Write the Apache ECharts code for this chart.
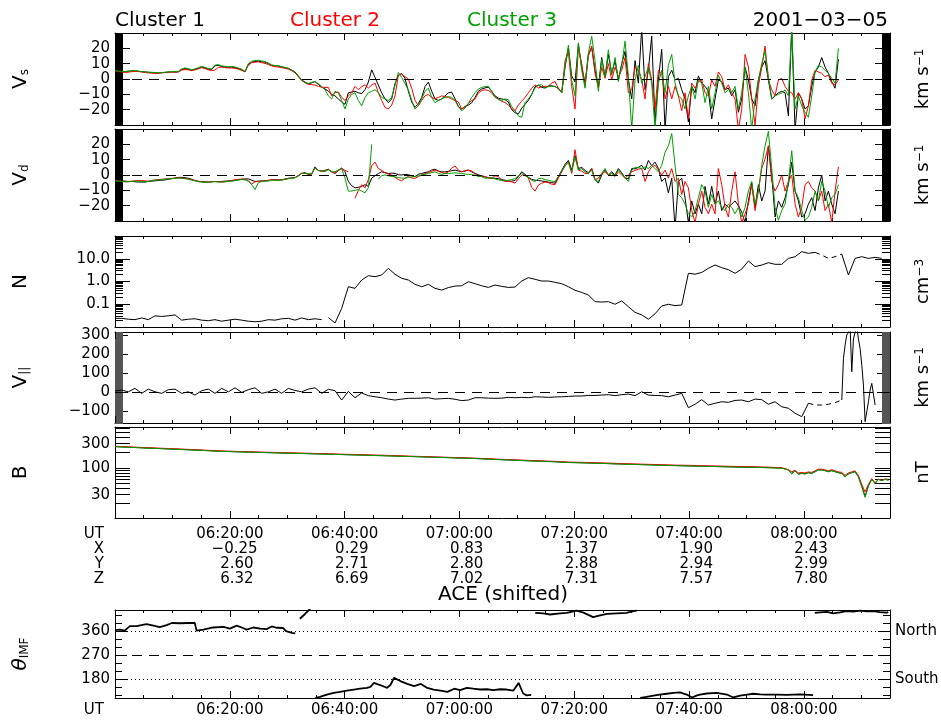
<!DOCTYPE html>
<html>
<head>
<meta charset="utf-8">
<script src="https://cdn.jsdelivr.net/npm/echarts@6/dist/echarts.min.js"></script>
<style>
  html, body { margin: 0; padding: 0; background: #ffffff; }
  #chart { width: 941px; height: 723px; }
</style>
</head>
<body>
<div id="chart"></div>
<script>
// Time axis: minutes after 06:00 UT
const T_MIN = 0, T_MAX = 135;

// ---- Cluster velocity components (km/s), one sample every 0.5807 min from 06:00 ----
const V_T0 = 0, V_STEP = 0.5807;
const vsC1 = [
  4.8,4.8,4.7,4.9,5.1,5.3,5.2,5.0,4.8,4.6, 4.4,4.2,4.0,3.9,4.1,4.3,4.5,4.6,4.5,4.7,
  6.2,6.8,6.4,5.7,6.3,7.0,7.8,7.2,6.4,6.2, 8.6,8.9,8.2,7.8,7.6,7.8,7.4,6.8,6.0,4.6,
  9.5,11,11.4,11.6,11.2,11,10,8.9,8.6,8.5, 7.8,7.4,6.8,5.8,4.6,2.0,-0.6,-2,-3.2,-2.5,
  -1.7,-3.5,-5.3,-6.5,-8,-10,-11,-13,-15,-16.5, -9,-8.5,-8,-9,-9.5,-7,-2,6,1,-4,
  -9,-13,-15.4,-13,-3,2.5,3.6,0.4,-8,-15, -18.5,-16,-12,-5,-2,-8,-13,-14,-13,-11,
  -9,-8.5,-13,-18,-19.6,-18,-17,-15.5,-12,-8, -6.5,-5.8,-5.3,-8,-11,-12.5,-13,-13.5,-15,-20,
  -22,-22.8,-19,-16.5,-14,-10,-5,-4,-5.5,-5.9, -4.5,-4.4,-5,-6,-9,7.8,20,2,-2,22.5,
  7.8,-2.7,16,20.5,5.7,-4.8,14,1.5,16,3.6, 12,-0.6,10,18,-0.6,-13,12,-2.7,33,-7,
  5.7,28,-28,-0.6,19.4,-33,1.5,5.7,-0.6,0.4, -7,-13,-28,-4.8,-9,2,-2.7,-4.8,-8,-26,
  -13,-0.6,-1.7,-7,-5.9,-11,-7,-21.7,-13,7.8, -0.6,-13,-17.5,-0.6,7.8,12,-0.6,-13,-11,-9,
  -8,-9,-24,33,-33,-9,-13,-19.6,-17.5,-4.8, 4.6,7.8,14,7.8,3.6,-1.7,-6,13
];
const vsC2 = [
  5.2,5.0,4.6,4.3,4.4,4.8,5.0,4.9,4.5,4.2, 4.0,3.8,3.6,3.8,4.0,4.2,4.4,4.5,4.6,4.6,
  5.8,6.2,6.0,5.4,6.0,6.6,7.4,6.8,6.0,5.5, 5.8,7.6,7.8,7.4,7.2,7.2,7.0,6.4,5.6,4.8,
  9.0,10.6,11,11.2,10.6,10.2,9.4,8.6,8.0,7.8, 7.4,7.0,6.4,5.4,4.0,1.5,-1,-2.4,-3.6,-3.6,
  -4,-4.8,-5.3,-5.5,-5.5,-11,-9,-8.5,-12,-14, -11,-9,-4.8,-7,-5,-3.8,-5.9,-4,-2.7,-9,
  -14,-18.5,-19.6,-17,-11,2.5,3.2,1.5,0,-6, -14,-17.5,-14,-11,-10,-12,-13,-12,-11,-11.5,
  -12,-13,-14,-15,-19.6,-18,-16,-14,-13,-9, -7.5,-7,-7.5,-9,-12,-13,-14.5,-15.4,-17,-19.5,
  -20.7,-17,-14.5,-12,-9,-6,-3.8,-5.9,-5,-4.8, -4.8,-2.5,-1.7,-6,-9,12,18,-5,-19.6,20.5,
  10,-4.8,15,21.5,3.6,-6,7.8,0.4,10,-0.6, 7.8,1.5,5.7,14,-9,-7,7.8,5.7,-0.6,-13,
  10,-0.6,-19.6,5.7,3.6,-13,-4.8,-13,-4.8,-11, -20.7,-9,-26,-2.7,-6,-1.7,-0.6,-9,-11,-0.6,
  -4.8,4.6,1.5,-7,-3.8,-9,-13,-33,-19.6,16, 7.8,-13,-30,-4.8,7.8,21.5,-0.6,-7,-11,-0.6,
  0.4,-4.8,-8,-9,-13,-9,-13,-26,-17.5,-0.6, 5.7,4.6,3.6,1.5,2.5,-2.7,-3.8,-0.6
];
const vsC3 = [
  5.4,5.2,5.0,4.8,5.0,5.4,5.6,5.2,4.8,4.6, 4.4,4.4,4.2,4.0,4.2,4.4,4.6,4.8,4.9,5.0,
  6.6,7.2,6.8,6.0,6.6,7.4,8.2,7.6,6.8,6.6, 9.0,9.4,8.6,8.2,8.0,8.2,7.8,7.2,6.4,5.0,
  10,11.6,12,12.2,11.8,11.4,10.4,9.2,8.8,8.7, 8.0,7.6,7.0,6.0,4.4,1.6,-0.8,-2.2,-3,-2.2,
  -1.6,-3,-5,-7,-11,-13,-8,-9,-14,-19.6, -13,-10,-9,-14,-17.5,-12,-9,-8,-7,-9,
  -12,-13,-14,-12,-4,4.2,1,-3,-7,-14, -19.6,-17.5,-13,-8,-6,-12,-15.4,-14,-13,-12,
  -11.5,-12,-14,-18,-20.7,-19,-16,-12,-9,-6.5, -5.5,-5,-4.8,-8,-11.5,-13.5,-14,-13,-13.5,-18,
  -20.7,-24,-25,-15.4,-13,-10,-5.9,-4,-3.8,-5.9, -5,-4.8,-4.8,-6.5,-9,8,22,-1,-11,23.6,
  5.7,-6,17,27.8,12,-8,13,1.5,19,2.5, 14,-1.7,9,24.7,1.5,-33,-0.6,8.9,-2.7,1.5,
  7.8,-2.7,-33,-2.7,5.7,-9,8.9,16,-2.7,-11, -13,-19.6,-11,-4.8,-13,-0.6,-2.7,-15.4,-4.8,-19.6,
  -9,2.5,-2.7,-9,-7,-9,-4.8,-19.6,-9,7.8, -9,-33,-13,-0.6,10,18,1.5,-13,-11,-10,
  -9,-7,-11,33,-19.6,-11,-17.5,-21.7,-25,-11, 4.6,8.9,7.8,5.7,3.6,0.4,-2.7,20
];
const vdC1 = [
  -3.6,-3.8,-3.8,-4,-4.2,-4.2,-4.4,-4.6,-4.6,-4.6, -4.2,-4,-3.8,-3.6,-3.4,-3.2,-2.8,-2.4,-2,-1.6,
  -1.5,-1.8,-2.1,-2.8,-3.6,-4.2,-4.4,-4.5,-4.6,-4.5, -4.2,-4.3,-4.2,-4,-3.9,-3.8,-3.6,-3.2,-2.8,-2.6,
  -2.5,-3.4,-4.2,-4,-3.9,-3.8,-3.8,-3.2,-3,-3.2, -3.2,-2.6,-2.1,-1.9,-1.7,-0.5,1,1.5,0.4,0.6,
  5.3,3,2.5,3,3.8,2,1,3,4.6,2.1, -4.2,-7,-8.4,-8,-7.4,-6.3,-7.4,-2,-0.5,1,
  2.1,1.5,1,1.2,1,0.2,0,0.4,0.2,-0.6, -1,0.5,1,1.6,2.1,3.2,3.8,2.6,2.1,2,
  2.4,2.8,3.2,2.6,2.1,2.6,3.2,2,1,0.2, -0.8,-1.2,-1.8,-2.1,-2.1,-2.4,-3,-3.4,-4,-4,
  -3.6,-1,2.1,0.5,-1.5,-2.8,-3.4,-3.6,-3.9,-4.2, -4.6,-5,-5.3,-1,3,7,9.5,3.2,12.7,4.2,
  5,3,1.5,4.2,-3,-5.3,0,3.2,0,2.1, 0,4.2,1.5,-2,-2.5,4.2,4,5,6.3,3.2,
  9.5,6,8.4,4.2,-4.2,-2,-11.6,-2.1,-35,-4.2, -2.1,-14.8,-31,-16.9,-25.3,-19,-25.3,-7.4,-19,-7.4,
  -19,-10.5,-23.2,-19,-21.1,-19,-16.9,-20,-24.3,-31, -16.9,-5.3,-21.1,-6.3,-16.9,-10.5,19,0,-27.4,-16.9,
  -21.1,-14.8,-6.3,8.4,-10.5,-16.9,-27.4,-25.3,-19,-14.8, -23.2,-8.4,0,-16.9,-10.5,-19,-25.3,-10.5
];
const vdC2 = [
  -3.4,-3.8,-4.2,-4.4,-4.4,-4,-3.8,-3.6,-3.6,-3.8, -4,-3.6,-3.2,-3,-2.8,-2.6,-2.4,-2.2,-2,-2,
  -2,-2.2,-2.6,-3,-3.6,-4,-4.4,-4.8,-4.6,-4.2, -4.2,-4.4,-4.6,-4.4,-4,-3.6,-3,-2.8,-2.6,-2.8,
  -3.6,-6,-4.4,-4.2,-4,-3.8,-3.4,-3,-3.2,-3.4, -3,-2.8,-2.4,-2,-1.8,-0.2,1.2,1,0.6,0.8,
  4.6,3,2.6,2.4,3.6,2.2,1.4,2.8,4.2,3, 2,null,-15.2,-10,-6.3,-8.4,-3,6,8.4,4.2,
  3,1.5,0.5,0,-1.5,-3,-3.8,-2,-1,-2, -2.1,-1,0,0.8,1.6,2.4,3.2,2.4,1.6,1,
  2,4.5,5.9,3.2,2.1,2.8,3.2,2.6,1,-1, -0.5,-1,-1.8,-2.1,-0.5,-1,-3.5,-4.2,-4.2,-4.5,
  -5.3,-2.5,0,0,-2,-8,-10.5,-6.5,-5.3,-4.6, -5,-6,-6.3,-2,2,6,8.4,1,16.5,3.2,
  2.5,1,1,4.2,-3.2,-2.1,1,2.1,0,1, -1,2.1,0,-2.1,0,2.1,3,3.8,4.2,-4.2,
  2.1,5.3,6.3,3.2,0,3.2,-2.1,4.2,-4.2,-2.1, -12.7,-4.2,-8.4,-23.2,-31,-19,-10.5,-21.1,-25.3,-19,
  -25.3,4.2,-6.3,-21.1,-27.4,-10.5,2.1,-19,-31,-25.3, -19,-6.3,-23.2,-10.5,4.2,10.5,19,-4.2,-10.5,-6.3,
  0,-10.5,-4.2,0,-19,-27.4,-21.1,-6.3,-4.2,-8.4, -10.5,-16.9,-10.5,-23.2,-19,-31,-10.5,5.3
];
const vdC3 = [
  -3.8,-4,-4.2,-4.4,-4.4,-4.2,-4,-4,-4.2,-4.4, -4.2,-3.8,-3.4,-3.2,-3,-2.8,-2.6,-2.4,-2.2,-2,
  -2.2,-2.4,-2.8,-3.4,-3.8,-4.4,-4.6,-4.8,-4.8,-4.4, -4.4,-4.6,-4.6,-4.4,-4.2,-4,-3.6,-3.2,-3,-3.2,
  -4,-6.3,-9.5,-5,-4.2,-4,-3.8,-3.4,-3.4,-3.6, -3.4,-2.8,-2.4,-2.2,-1.8,-0.6,1,1.2,0.8,0.8,
  4.6,3,2.4,2.6,3.4,2,2.1,3.4,4.2,-2.1, -10.5,-10.5,-10,-9.5,-10.5,-11.6,-8.4,20,null,-2.5,
  -0.5,0,-0.5,-1,-1.2,-1.7,-2,-2.1,-1.6,-1.2, -1,-0.5,0,0.5,1,1.6,2.1,1,0.4,1,
  1,1.2,1.4,1.2,1,0.6,0.4,0.2,0,-1, -1,-2.1,-2,-1.7,-2.6,-3.2,-3.6,-3.8,-3.4,-3,
  -2.4,-0.5,1,-0.5,-1.5,-3.5,-4.2,-2.5,-2.1,-3, -3.4,-4,-4.2,-1,2.5,6,8.4,2.1,11.6,3.2,
  4.2,2,1,3.2,-3.5,-4.2,1,4.2,0,1, 0,3.2,1,-2,-4.2,3.2,5,4.8,4.2,5.3,
  4.2,6.3,4.2,2.1,6.3,14.8,19,27,6.3,-12.7, -14.8,-19,-25.3,-27.4,-23.2,-14.8,-6.3,-10.5,-21.1,-12.7,
  -19,-16.9,-21.1,-23.2,-19,-21.1,-25.3,-21.1,-27.4,-21.1, -10.5,-4.2,-19,-10.5,6.3,19,28.5,4.2,-21.1,-29.5,
  -23.2,-19,-4.2,15.8,-10.5,-14.8,-23.2,-29.5,-27.4,-21.1, -10.5,-16.9,-4.2,-10.5,-21.1,-14.8,-12.7,-6.3
];

// ---- Ion density N (cm^-3), one sample every 1.1614 min; samples 105..109 bridge a data gap ----
const N_T0 = 0, N_STEP = 1.1614;
const nDens = [
  0.024,0.024,0.022,0.021,0.025,0.021,0.031,0.029,0.031,0.034,
  0.020,0.022,0.023,0.020,0.019,0.021,0.018,0.020,0.022,0.020,
  0.018,0.017,0.018,0.021,0.020,0.023,0.024,0.020,0.025,0.021,
  0.023,0.021,0.026,0.015,0.066,0.59,0.50,1.16,1.8,1.63,
  1.93,3.79,2.07,1.38,1.16,0.75,0.59,0.75,0.50,0.42,
  0.54,0.63,0.65,0.98,0.80,0.65,0.55,0.70,0.61,0.55,
  0.57,1.05,1.47,1.25,1.05,1.05,0.92,0.80,0.59,0.41,
  0.33,0.255,0.13,0.125,0.13,0.10,0.14,0.078,0.044,0.034,
  0.022,0.038,0.084,0.10,0.087,0.093,2.29,2.1,2.5,3.8,
  5.3,4.06,3.3,2.29,3.5,8.0,4.5,5.3,6.7,5.7,
  5.7,10.4,12.3,20.5,17.3,19.1,14.6,10.4,12.3,16.0,
  1.93,10.4,12.3,10.4,11.5,10.4
];
const nBreakAfter = 31;      // instrument gap between samples 31 and 32
const nGap = [105, 109];

// ---- Parallel velocity V|| (km/s), one sample every 1.1614 min; samples 104..109 bridge a gap ----
const VPAR_T0 = 0, VPAR_STEP = 1.1614;
const vPar = [
  7,12,3,21,-5,17,3,-5,14,17, -5,3,-14,9,17,-5,21,3,24,0,
  14,24,-5,3,17,-5,21,10,3,17, 24,-5,16,9,-40,5,-28,-3,-17,-23,
  -28,-35,-40,-35,-31,-31,-30,-28,-35,-33, -31,-36,-43,-40,-28,-28,-30,-31,-30,-26,
  -28,-26,-28,-23,-24,-26,-24,-23,-21,-19, -19,-16,-16,-14,-12,-17,-12,-9,-17,3,
  -14,-16,-17,-23,-14,-5,-80,-62,-38,-66, -57,-49,-52,-42,-40,-49,-35,-38,-62,-49,
  -75,-83,-109,-127,-57,-66,-66,-62,-54,-40
];
const vParGap = [104, 109];
// finer samples after the gap (every 0.2904 min)
const VPAR_TAIL_T0 = 126.6, VPAR_TAIL_STEP = 0.2904;
const vParTail = [-40,177,247,300,314,340,108,280,314,340,280,229,142,38,-153,-101,-49,12,47,38,-66];

// ---- Magnetic field magnitude B (nT) ----
const B_T0 = 0, B_STEP = 2.3228;
const bC1 = [263,256,249,243,237,231,225,219,213,209,205,202,199,196,193,190,187,184,181,178,
  175,172,169,166,163,160,157,154,150,146,142,139,136,133,129,127,125,122,120,118,
  116,114,112,110,109,107,106,104,103,102,100];
const bC2 = [267,260,253,247,241,235,229,222,216,212,209,205,202,199,196,193,190,187,184,181,
  178,175,171,168,165,162,159,156,152,148,145,141,138,135,131,129,127,125,122,120,
  118,116,114,113,111,110,108,107,106,104,101];
const bC3 = [262,255,248,242,236,230,224,218,212,208,205,201,198,195,192,189,186,183,180,177,
  174,171,168,165,162,159,156,153,149,145,142,138,135,132,128,126,124,122,119,117,
  115,113,111,110,108,107,105,104,103,101,99];
const B_TAIL_T0 = 116.72, B_TAIL_STEP = 0.5807;
const bTailC1 = [96,92,78,89,76,79,77,81,79,85,92,92,89,85,89,85,81,79,68,77,81,85,68,44,28,45,60,50,60,57,60,58];
const bTailC2 = [97,93,84.7,90,80,82,80,84,82,88,95,95,92,88,93,88,84,82,72,80,84,88,72,48,34,48,62,52,60,58,61,60];
const bTailC3 = [95.6,91.4,76.2,88.7,75.1,78.5,76.2,80.9,78.5,84.7,91.4,91.4,88.7,84.7,88.7,84.7,80.9,78.5,67.6,76.2,
  80.9,84.7,67.6,43,26.6,44.4,60,50,60,56.5,60,58.2];

// ---- ACE IMF clock angle (deg), null separates wrapped segments ----
const thetaTime = [
  0,0.9,1.7,2.6,3.8,4.6,5.5,6.7,7.8,9.0,9.9,11.3,12.8,13.9,14.2,15.4,17.1,18.9,20.0,21.2,22.3,22.9,24.1,25.3,26.4,27.3,28.2,29.3,29.8,30.8,31.4,
  31.8, 32.2,33.1,34.0, 34.4,
  34.9,35.7,36.9,38.1,39.2,40.4,41.6,42.7,43.9,44.5,45.1,46.3,47.4,48.0,48.6,49.8,50.9,52.1,53.3,54.4,
  55.5,56.7,57.9,59.1,60.1,61.3,62.4,63.6,64.8,65.9,67.1,68.2,69.4,70.3,71.1,71.7,72.5,
  72.9,
  73.2,74.6,75.8,77.5,78.7,80.4,81.6,83.3,84.5,85.7,87.4,89.1,90.3,90.9,
  91.2,
  91.5,92.6,93.8,94.9,96.1,97.3,98.4,99.6,100.5,101.4,101.9,103.1,104.8,106.6,107.7,108.9,110.1,111.2,112.4,113.5,115.3,117.0,119.3,121.6,
  121.75,
  121.9,122.8,124.0,125.1,126.3,127.4,128.6,129.8,130.9,132.1,133.2,134.4,134.7
];
const thetaDeg = [
  364,366,362,379,379,383,387,381,375,383,391,390,391,391,362,366,374,376,370,381,372,366,374,370,368,378,373,372,360,354,352,
  null, 407,425,445, null,
  108,112,121,127,131,136,140,143,146,150,165,156,146,158,184,171,161,153,161,146,
  140,136,131,143,138,146,143,140,141,138,141,140,136,165,125,118,120,
  null,
  429,427,423,427,429,438,430,413,420,425,427,429,436,438,
  null,
  108,112,117,121,124,127,129,121,110,118,121,125,127,121,110,117,121,124,122,121,121,120,122,119,
  null,
  429,431,433,427,431,436,434,438,435,436,432,430,432
];

// ---- spacecraft position table (Re) under the B panel ----
const tableMinutes = [20, 40, 60, 80, 100, 120];
const posX = [-0.25, 0.29, 0.83, 1.37, 1.90, 2.43];
const posY = [2.60, 2.71, 2.80, 2.88, 2.94, 2.99];
const posZ = [6.32, 6.69, 7.02, 7.31, 7.57, 7.80];

// ---- axis tick / label values ----
const nLabels = [0.1, 1, 10];
const nMinorTicks = [0.02,0.03,0.04,0.05,0.06,0.07,0.08,0.09,0.2,0.3,0.4,0.5,0.6,0.7,0.8,0.9,
  2,3,4,5,6,7,8,9,20,30,40,50,60,70,80,90];
const vParLabels = [-100, 0, 100, 200, 300];
const bLabels = [30, 100, 300];
const bTicks = [20,30,40,50,60,70,80,90,100,200,300,400,500,600];
const thetaLabels = [180, 270, 360];
const thetaMinorTicks = [120,150,210,240,300,330,390,420];

// ---------------- layout & styling ----------------
const FONT = 'DejaVu Sans';
const BLACK = '#000000', RED = '#ff0000', GREEN = '#00a000';
const PANELS = [
  { top: 33,  height: 92 },
  { top: 129, height: 92 },
  { top: 236, height: 91 },
  { top: 332, height: 91 },
  { top: 427, height: 91 },
  { top: 610, height: 88 }
];
const minus = s => String(s).replace('-', '\u2212');
const hhmm = m => {
  const h = 6 + Math.floor(m / 60), mm = Math.round(m % 60);
  return String(h).padStart(2, '0') + ':' + String(mm).padStart(2, '0') + ':00';
};
const onGrid = (vals, t0, step) => vals.map((v, i) => [t0 + i * step, v]);

const grid = PANELS.map(p => ({ left: 115, width: 775, top: p.top, height: p.height,
  containLabel: false, outerBoundsMode: 'none' }));

const tickLine = { color: BLACK, width: 1 };
const labelStyle = { show: true, margin: 5, fontSize: 15, color: BLACK, fontFamily: FONT };
const leftNameStyle = { fontSize: 20, color: BLACK, fontFamily: FONT,
  rich: { sub: { fontSize: 12, lineHeight: 4, verticalAlign: 'bottom', fontFamily: FONT, color: BLACK },
          th: { fontSize: 20, fontStyle: 'italic', fontFamily: FONT, color: BLACK } } };
const rightNameStyle = { fontSize: 18, color: BLACK, fontFamily: FONT,
  rich: { sup: { fontSize: 12, lineHeight: 4, verticalAlign: 'top', fontFamily: FONT, color: BLACK } } };

// x axes: per panel bottom-minor, bottom-major, top-minor, top-major
const xAxis = [];
PANELS.forEach((p, g) => {
  ['bottom', 'top'].forEach(pos => {
    xAxis.push({ gridIndex: g, type: 'value', position: pos, min: T_MIN, max: T_MAX, interval: 5,
      axisLine: { show: true, onZero: false, lineStyle: tickLine },
      axisTick: { show: true, inside: true, length: 3, lineStyle: tickLine },
      axisLabel: { show: false }, splitLine: { show: false } });
    xAxis.push({ gridIndex: g, type: 'value', position: pos, min: T_MIN, max: T_MAX, interval: 20,
      axisLine: { show: false, onZero: false },
      axisTick: { show: true, inside: true, length: 7, lineStyle: tickLine },
      axisLabel: { show: false }, splitLine: { show: false } });
  });
});
// position table under the B panel
Object.assign(xAxis[4 * 4 + 1], {
  axisLabel: Object.assign({}, labelStyle, { margin: 8, lineHeight: 15.3, customValues: tableMinutes,
    formatter: v => {
      const i = tableMinutes.indexOf(v);
      if (i < 0) return '';
      const f = n => minus(n.toFixed(2)).padStart(7, ' ');
      return [hhmm(v), f(posX[i]), f(posY[i]), f(posZ[i])].join('\n');
    } }),
  name: 'UT\nX\nY\nZ', nameLocation: 'start', nameGap: 11,
  nameTextStyle: { fontSize: 15, fontFamily: FONT, color: BLACK, align: 'right', verticalAlign: 'top',
    lineHeight: 15.3, padding: [8, 0, 0, 0] }
});
// UT labels under the ACE panel
Object.assign(xAxis[5 * 4 + 1], {
  axisLabel: Object.assign({}, labelStyle, { margin: 5, customValues: tableMinutes, formatter: v => hhmm(v) }),
  name: 'UT', nameLocation: 'start', nameGap: 11,
  nameTextStyle: { fontSize: 15, fontFamily: FONT, color: BLACK, align: 'right', verticalAlign: 'top',
    padding: [5, 0, 0, 0] }
});

// y axes
const yAxis = [];
const mainY = [];
function addY(o) { yAxis.push(o); return yAxis.length - 1; }
function yBase(g, pos, extra) {
  return Object.assign({ gridIndex: g, position: pos, splitLine: { show: false },
    axisLine: { show: false, onZero: false },
    axisTick: { show: true, inside: true, length: 15, lineStyle: tickLine },
    axisLabel: { show: false } }, extra);
}
function nameLeft(text, gap) {
  return { name: text, nameLocation: 'middle', nameRotate: 90, nameGap: gap || 84, nameTextStyle: leftNameStyle };
}
function nameRight(text) {
  return { name: text, nameLocation: 'middle', nameRotate: 90, nameGap: 24, nameTextStyle: rightNameStyle };
}
const border = { axisLine: { show: true, onZero: false, lineStyle: tickLine } };

// velocity panels (linear, dense minor ticks)
[['V{sub|s}'], ['V{sub|d}']].forEach((nm, g) => {
  const scale = { type: 'value', min: -30, max: 30, interval: 10,
    minorTick: { show: true, splitNumber: 20, length: 8, lineStyle: tickLine } };
  mainY[g] = addY(yBase(g, 'left', Object.assign({}, scale, border, nameLeft(nm[0]), {
    axisLabel: Object.assign({}, labelStyle, { formatter: v => Math.abs(v) >= 30 ? '' : minus(v) }) })));
  addY(yBase(g, 'right', Object.assign({}, scale, border, nameRight('km s{sup|\u22121}'))));
});

// density panel (log)
{
  const g = 2, scale = { type: 'log', logBase: 10, min: 0.01, max: 100 };
  mainY[g] = addY(yBase(g, 'left', Object.assign({}, scale, border, nameLeft('N'), {
    axisTick: { show: true, inside: true, length: 15, lineStyle: tickLine, customValues: nLabels },
    axisLabel: Object.assign({}, labelStyle, { customValues: nLabels, formatter: v => Number(v).toFixed(1) }) })));
  addY(yBase(g, 'left', Object.assign({}, scale, {
    axisTick: { show: true, inside: true, length: 8, lineStyle: tickLine, customValues: nMinorTicks } })));
  addY(yBase(g, 'right', Object.assign({}, scale, border, nameRight('cm{sup|\u22123}'), {
    axisTick: { show: true, inside: true, length: 15, lineStyle: tickLine, customValues: nLabels } })));
  addY(yBase(g, 'right', Object.assign({}, scale, {
    axisTick: { show: true, inside: true, length: 8, lineStyle: tickLine, customValues: nMinorTicks } })));
}

// parallel velocity panel
{
  const g = 3, scale = { type: 'value', min: -160, max: 315.6 };
  const dense = { type: 'value', min: -160, max: 315.6, interval: 5,
    axisTick: { show: true, inside: true, length: 8, lineStyle: { color: '#555555', width: 1 } } };
  mainY[g] = addY(yBase(g, 'left', Object.assign({}, scale, border, nameLeft('V{sub|||}'), {
    axisTick: { show: true, inside: true, length: 13, lineStyle: tickLine, customValues: vParLabels },
    axisLabel: Object.assign({}, labelStyle, { customValues: vParLabels, formatter: v => minus(v) }) })));
  addY(yBase(g, 'left', dense));
  addY(yBase(g, 'right', Object.assign({}, scale, border, nameRight('km s{sup|\u22121}'), {
    axisTick: { show: true, inside: true, length: 13, lineStyle: tickLine, customValues: vParLabels } })));
  addY(yBase(g, 'right', dense));
}

// field magnitude panel (log)
{
  const g = 4, scale = { type: 'log', logBase: 10, min: 10.5, max: 636 };
  mainY[g] = addY(yBase(g, 'left', Object.assign({}, scale, border, nameLeft('B'), {
    axisTick: { show: true, inside: true, length: 15, lineStyle: tickLine, customValues: bTicks },
    axisLabel: Object.assign({}, labelStyle, { customValues: bLabels, formatter: v => String(Math.round(v)) }) })));
  addY(yBase(g, 'right', Object.assign({}, scale, border, nameRight('nT'), {
    axisTick: { show: true, inside: true, length: 15, lineStyle: tickLine, customValues: bTicks } })));
}

// IMF clock angle panel
{
  const g = 5, scale = { type: 'value', min: 108, max: 440 };
  mainY[g] = addY(yBase(g, 'left', Object.assign({}, scale, border, nameLeft('{th|\u03b8}{sub|IMF}'), {
    axisTick: { show: true, inside: true, length: 12, lineStyle: tickLine, customValues: thetaLabels },
    axisLabel: Object.assign({}, labelStyle, { customValues: thetaLabels, formatter: v => String(v) }) })));
  addY(yBase(g, 'left', Object.assign({}, scale, {
    axisTick: { show: true, inside: true, length: 7, lineStyle: tickLine, customValues: thetaMinorTicks } })));
  addY(yBase(g, 'right', Object.assign({}, scale, border, {
    axisTick: { show: true, inside: true, length: 12, lineStyle: tickLine, customValues: thetaLabels },
    axisLabel: Object.assign({}, labelStyle, { customValues: [180, 360], formatter: v => v >= 300 ? 'North' : 'South' }) })));
  addY(yBase(g, 'right', Object.assign({}, scale, {
    axisTick: { show: true, inside: true, length: 7, lineStyle: tickLine, customValues: thetaMinorTicks } })));
}

// ---------------- series ----------------
function line(g, color, data, extra) {
  return Object.assign({ type: 'line', xAxisIndex: g * 4, yAxisIndex: mainY[g], data,
    showSymbol: false, symbol: 'none', connectNulls: false, clip: true, silent: true, animation: false,
    lineStyle: { color, width: 1 }, itemStyle: { color }, z: 3 }, extra || {});
}
function refLines(items) {
  return { silent: true, symbol: ['none', 'none'], label: { show: false }, animation: false,
    lineStyle: { color: BLACK, width: 1, type: [10, 7] }, data: items };
}
const zeroLine = refLines([{ yAxis: 0 }]);

// density: solid record with a break marker at the instrument gap, dashed bridge later on
const nSolidVals = nDens.map((v, i) => (i > nGap[0] && i < nGap[1]) ? null : v);
const nSolid = [];
onGrid(nSolidVals, N_T0, N_STEP).forEach((p, i) => {
  nSolid.push(p);
  if (i === nBreakAfter) nSolid.push([p[0] + N_STEP / 2, null]);
});
const nBridge = nDens.map((v, i) => (i >= nGap[0] && i <= nGap[1]) ? v : null);
const vParSolid = vPar.map((v, i) => i <= vParGap[0] ? v : null);
const vParBridge = vPar.map((v, i) => i >= vParGap[0] ? v : null);

const series = [
  line(0, BLACK, onGrid(vsC1, V_T0, V_STEP), { markLine: zeroLine }),
  line(0, RED, onGrid(vsC2, V_T0, V_STEP)),
  line(0, GREEN, onGrid(vsC3, V_T0, V_STEP)),

  line(1, BLACK, onGrid(vdC1, V_T0, V_STEP), { markLine: zeroLine }),
  line(1, RED, onGrid(vdC2, V_T0, V_STEP)),
  line(1, GREEN, onGrid(vdC3, V_T0, V_STEP)),

  line(2, BLACK, nSolid),
  line(2, BLACK, onGrid(nBridge, N_T0, N_STEP), { lineStyle: { color: BLACK, width: 1, type: [5, 4] } }),

  line(3, BLACK, onGrid(vParSolid, VPAR_T0, VPAR_STEP), { markLine: zeroLine }),
  line(3, BLACK, onGrid(vParBridge, VPAR_T0, VPAR_STEP), { lineStyle: { color: BLACK, width: 1, type: [5, 4] } }),
  line(3, BLACK, onGrid(vParTail, VPAR_TAIL_T0, VPAR_TAIL_STEP)),

  line(4, BLACK, onGrid(bC1, B_T0, B_STEP).concat(onGrid(bTailC1, B_TAIL_T0, B_TAIL_STEP))),
  line(4, RED, onGrid(bC2, B_T0, B_STEP).concat(onGrid(bTailC2, B_TAIL_T0, B_TAIL_STEP))),
  line(4, GREEN, onGrid(bC3, B_T0, B_STEP).concat(onGrid(bTailC3, B_TAIL_T0, B_TAIL_STEP))),

  line(5, BLACK, thetaTime.map((t, i) => [t, thetaDeg[i]]), {
    lineStyle: { color: BLACK, width: 1.8 },
    markLine: refLines([
      { yAxis: 360, lineStyle: { type: [1, 3], color: BLACK, width: 1 } },
      { yAxis: 270, lineStyle: { type: [10, 7], color: BLACK, width: 1 } },
      { yAxis: 180, lineStyle: { type: [1, 3], color: BLACK, width: 1 } }
    ]) })
];

const titleText = (text, pos, color) => Object.assign({ text, padding: 0,
  textStyle: { fontSize: 20, fontWeight: 'normal', color, fontFamily: FONT } }, pos);

const option = {
  backgroundColor: '#ffffff',
  animation: false,
  title: [
    titleText('Cluster 1', { left: 115, top: 11 }, BLACK),
    titleText('Cluster 2', { left: 290, top: 11 }, RED),
    titleText('Cluster 3', { left: 467, top: 11 }, GREEN),
    titleText('2001\u221203\u221205', { right: 53, top: 11 }, BLACK),
    titleText('ACE (shifted)', { left: 438, top: 585 }, BLACK)
  ],
  grid, xAxis, yAxis, series
};

const chart = echarts.init(document.getElementById('chart'), null, { renderer: 'canvas' });
chart.setOption(option);
</script>
</body>
</html>
